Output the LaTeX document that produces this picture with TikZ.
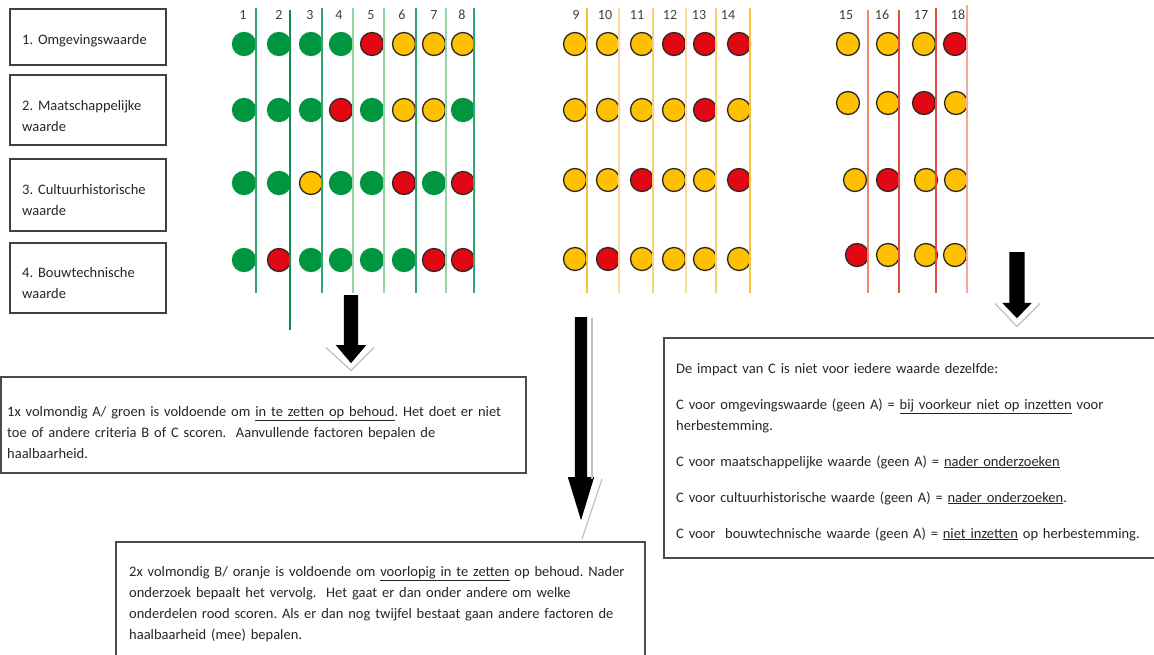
\documentclass[tikz,border=0pt]{standalone}
\usepackage{fontspec}
\setmainfont{Carlito}
\frenchspacing
\usetikzlibrary{shapes.arrows}

\definecolor{dotG}{RGB}{0,150,64}
\definecolor{dotO}{RGB}{255,192,0}
\definecolor{dotR}{RGB}{227,6,19}
\definecolor{ringG}{RGB}{0,150,64}
\definecolor{ringO}{RGB}{45,40,35}
\definecolor{ringR}{RGB}{45,40,35}
\definecolor{lgA}{RGB}{50,165,115}
\definecolor{lgB}{RGB}{20,140,80}
\definecolor{lgC}{RGB}{150,212,165}
\definecolor{lyA}{RGB}{246,195,60}
\definecolor{lyB}{RGB}{252,218,160}
\definecolor{lyC}{RGB}{247,212,110}
\definecolor{lrA}{RGB}{240,135,110}
\definecolor{lrB}{RGB}{226,75,70}
\definecolor{lrC}{RGB}{246,170,150}

\begin{document}
\begin{tikzpicture}[x=1pt,y=-1pt,
  font=\fontsize{14.5}{21}\selectfont,
  dot/.style={circle,minimum size=23pt,inner sep=0pt,line width=1.3pt},
  num/.style={inner sep=0pt,font=\fontsize{14}{14}\selectfont,text=black!75},
  labelbox/.style={draw=black!75,line width=2pt,minimum width=156pt,inner sep=0pt},
  textbox/.style={draw=black!70,line width=2pt,inner sep=0pt},
  boxtext/.style={inner sep=0pt,anchor=base west,align=left,text=black!85},
  bigarrow/.style={single arrow,fill=black,draw=none,shape border rotate=270,anchor=tail},
  rim/.style={draw=black!25,line width=1.2pt}]
  \useasboundingbox (0,0) rectangle (1154,654);

  % waarden links
  \foreach \i/\y/\h/\b/\txt in {1/37/56/44/{1. Omgevingswaarde},
      2/110/70/110/{2. Maatschappelijke\\waarde},
      3/195/72/194/{3. Cultuurhistorische\\waarde},
      4/278/70/277/{4. Bouwtechnische\\waarde}}{
    \node[labelbox,minimum height=\h] (w\i) at (88,\y) {};
    \node[boxtext,text width=140pt] (t\i) at (22,\b) {\txt};
  }

  % groep 1 (A)
  \foreach \x/\ra/\rb/\rc/\rd [count=\n] in {244/G/G/G/G,279/G/G/G/R,311/G/G/O/G,341/G/R/G/G,
      372/R/G/G/G,404/O/O/R/G,434/O/O/G/R,463/O/G/R/R}{
    \node[dot,fill=dot\ra,draw=ring\ra] (d\n-1) at (\x,44) {};
    \node[dot,fill=dot\rb,draw=ring\rb] (d\n-2) at (\x,110) {};
    \node[dot,fill=dot\rc,draw=ring\rc] (d\n-3) at (\x,183) {};
    \node[dot,fill=dot\rd,draw=ring\rd] (d\n-4) at (\x,260) {};
  }
  % groep 2 (B)
  \foreach \x/\ra/\rb/\rc/\rd [count=\n from 9] in {575/O/O/O/O,608/O/O/O/R,642/O/O/R/O,
      674/R/O/O/O,705/R/R/O/O,739/R/O/R/O}{
    \node[dot,fill=dot\ra,draw=ring\ra] (d\n-1) at (\x,44) {};
    \node[dot,fill=dot\rb,draw=ring\rb] (d\n-2) at (\x,110) {};
    \node[dot,fill=dot\rc,draw=ring\rc] (d\n-3) at (\x,180) {};
    \node[dot,fill=dot\rd,draw=ring\rd] (d\n-4) at (\x,259) {};
  }
  % groep 3 (C)
  \foreach \xa/\xb/\xc/\xd/\ra/\rb/\rc/\rd [count=\n from 15] in {848/848/855/857/O/O/O/R,
      888/888/888/888/O/O/R/O,924/924/926/926/O/R/O/O,955/956/956/955/R/O/O/O}{
    \node[dot,fill=dot\ra,draw=ring\ra] (d\n-1) at (\xa,44) {};
    \node[dot,fill=dot\rb,draw=ring\rb] (d\n-2) at (\xb,103) {};
    \node[dot,fill=dot\rc,draw=ring\rc] (d\n-3) at (\xc,180) {};
    \node[dot,fill=dot\rd,draw=ring\rd] (d\n-4) at (\xd,255) {};
  }

  % kolomlijnen
  \foreach \x/\kl/\t/\e in {256/lgA/8/293,290/lgB/10/330,322/lgA/8/293,353/lgC/8/293,
      384/lgC/8/293,416/lgA/8/293,446/lgC/8/293,474/lgA/8/293,
      587/lyA/8/293,619/lyB/8/293,653/lyC/8/293,686/lyB/8/293,716/lyC/8/293,750/lyA/8/293,
      868/lrA/10/293,899/lrB/10/293,936/lrB/8/293,967/lrC/5/293}
    \draw[\kl,line width=1.6pt] (\x,\t) -- (\x,\e);

  % nummers
  \foreach \n/\x in {1/243,2/279,3/310,4/339,5/371,6/402,7/434,8/462,
      9/576,10/605,11/637,12/670,13/699,14/728,15/846,16/882,17/921,18/958}
    \node[num] (n\n) at (\x,15) {\n};

  % tekstvakken
  \node[textbox,minimum width=525pt,minimum height=96pt] (boxA) at (263.5,425) {};
  \node[boxtext,text width=515pt] (txtA) at (7,416) {1x volmondig A/ groen is voldoende om \underline{in te zetten op behoud}. Het doet er niet\\
    toe of andere criteria B of C scoren.\ \ Aanvullende factoren bepalen de\\
    haalbaarheid.};

  \node[textbox,minimum width=529pt,minimum height=130pt] (boxB) at (380.5,607) {};
  \node[boxtext,text width=515pt] (txtB) at (129,576) {2x volmondig B/ oranje is voldoende om \underline{voorlopig in te zetten} op behoud. Nader\\
    onderzoek bepaalt het vervolg.\ \ Het gaat er dan onder andere om welke\\
    onderdelen rood scoren. Als er dan nog twijfel bestaat gaan andere factoren de\\
    haalbaarheid (mee) bepalen.};

  \node[textbox,minimum width=520pt,minimum height=220pt] (boxC) at (924,448) {};
  \node[boxtext,text width=485pt] (txtC) at (676,373) {De impact van C is niet voor iedere waarde dezelfde:\\[15pt]
    C voor omgevingswaarde (geen A) = \underline{bij voorkeur niet op inzetten} voor\\
    herbestemming.\\[15pt]
    C voor maatschappelijke waarde (geen A) = \underline{nader onderzoeken}\\[15pt]
    C voor cultuurhistorische waarde (geen A) = \underline{nader onderzoeken}.\\[15pt]
    C voor\ \ bouwtechnische waarde (geen A) = \underline{niet inzetten} op herbestemming.};

  % pijlen
  \node[bigarrow,inner sep=7pt,single arrow head extend=8pt,single arrow tip angle=80,
    minimum height=68pt] (arrA) at (351,295) {};
  \draw[rim] ([shift={(-25,-16)}]arrA.tip) -- ([shift={(0,7)}]arrA.tip) -- ([shift={(23,-16)}]arrA.tip);

  \node[bigarrow,inner sep=6pt,single arrow head extend=7pt,single arrow tip angle=34,
    minimum height=203pt] (arrB) at (581,317) {};
  \draw[rim] ([shift={(11,1)}]arrB.tail) -- ([shift={(11,-42)}]arrB.tip);
  \draw[rim] ([shift={(21,-42)}]arrB.tip) -- ([shift={(1,18)}]arrB.tip);

  \node[bigarrow,inner sep=7.5pt,single arrow head extend=7pt,single arrow tip angle=88,
    minimum height=66pt] (arrC) at (1017,252) {};
  \draw[rim] ([shift={(-22,-15)}]arrC.tip) -- ([shift={(0,8)}]arrC.tip) -- ([shift={(23,-15)}]arrC.tip);
\end{tikzpicture}
\end{document}
